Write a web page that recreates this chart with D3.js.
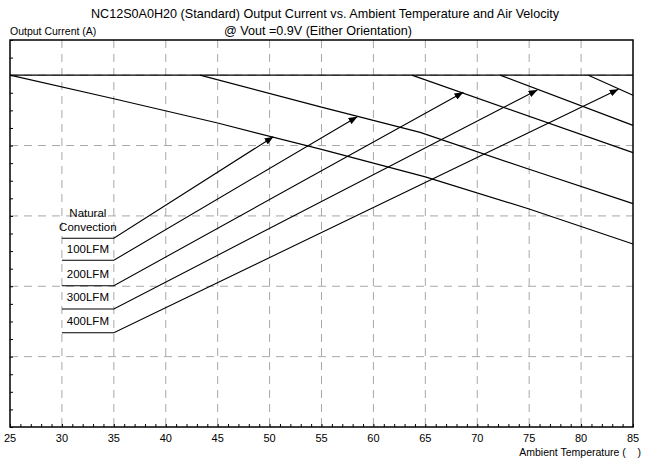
<!DOCTYPE html>
<html>
<head>
<meta charset="utf-8">
<script src="https://cdn.jsdelivr.net/npm/d3@7/dist/d3.min.js"></script>
<style>
  html, body { margin: 0; padding: 0; background: #fff; }
  text { font-family: "Liberation Sans", Arial, sans-serif; fill: #000; white-space: pre; }
</style>
</head>
<body>
<svg id="chart" width="653" height="460"></svg>
<script>
// ---- data ----
const xTicks = [25, 30, 35, 40, 45, 50, 55, 60, 65, 70, 75, 80, 85];
const yGrid = [4, 8, 12, 16, 20];

const maxTemp = [25, 85];
const maxCurr = [20, 20];
const ncTemp = [25, 35, 45, 55, 65, 75, 85];
const ncCurr = [20, 18.66, 17.28, 15.78, 14.22, 12.39, 10.4];
const lfm100Temp = [43.3, 54.9, 64.5, 75, 85];
const lfm100Curr = [20, 18.2, 16.75, 14.65, 12.7];
const lfm200Temp = [63.7, 85];
const lfm200Curr = [20, 15.6];
const lfm300Temp = [72.2, 85];
const lfm300Curr = [20, 17.15];
const lfm400Temp = [80.7, 85];
const lfm400Curr = [20, 18.86];

const labelNames = [["Natural", "Convection"], ["100LFM"], ["200LFM"], ["300LFM"], ["400LFM"]];
const labelCurr = [10.73, 9.48, 8.03, 6.71, 5.36];
const labelFromTemp = 30, labelToTemp = 35;
const tipTemp = [50.36, 58.45, 68.66, 75.79, 83.6];
const tipCurr = [16.5, 17.64, 19.03, 19.16, 19.2];

const title1 = "NC12S0A0H20 (Standard) Output Current vs. Ambient Temperature and Air Velocity";
const title2 = "@ Vout =0.9V (Either Orientation)";
const yTitle = "Output Current (A)";
const xTitle = "Ambient Temperature (    )";

// ---- drawing ----
const svg = d3.select("#chart");
const x = d3.scaleLinear().domain([25, 85]).range([10, 633]);
const y = d3.scaleLinear().domain([0, 22]).range([427, 40]);

// grid
const grid = svg.append("g").attr("stroke", "#a8a8a8").attr("stroke-width", 1).attr("stroke-dasharray", "8,6");
grid.selectAll("line.v").data(xTicks.slice(1, -1)).join("line")
  .attr("x1", d => x(d)).attr("x2", d => x(d)).attr("y1", y(22)).attr("y2", y(0));
grid.selectAll("line.h").data(yGrid).join("line")
  .attr("x1", x(25)).attr("x2", x(85)).attr("y1", d => y(d)).attr("y2", d => y(d));

// axes (minor inward ticks)
const bottom = svg.append("g").attr("transform", `translate(0,${y(0)})`)
  .call(d3.axisBottom(x).tickValues(d3.range(25, 86, 1)).tickSize(-3).tickFormat(""));
bottom.select(".domain").remove();
bottom.selectAll("line").attr("stroke", "#000");
const left = svg.append("g").attr("transform", `translate(${x(25)},0)`)
  .call(d3.axisLeft(y).tickValues(d3.range(0, 23, 1)).tickSize(-3).tickFormat(""));
left.select(".domain").remove();
left.selectAll("line").attr("stroke", "#000");

// tick labels
svg.append("g").selectAll("text").data(xTicks).join("text")
  .attr("x", d => x(d)).attr("y", 442).attr("text-anchor", "middle")
  .attr("font-size", 11).text(d => d);

// frame
svg.append("rect").attr("x", x(25)).attr("y", y(22))
  .attr("width", x(85) - x(25)).attr("height", y(0) - y(22))
  .attr("fill", "none").attr("stroke", "#000").attr("stroke-width", 1.5);

// curves
const line = d3.line().x(d => x(d[0])).y(d => y(d[1]));
const series = [[maxTemp, maxCurr], [ncTemp, ncCurr], [lfm100Temp, lfm100Curr], [lfm200Temp, lfm200Curr],
                [lfm300Temp, lfm300Curr], [lfm400Temp, lfm400Curr]];
svg.append("g").selectAll("path").data(series).join("path")
  .attr("d", s => line(s[0].map((t, i) => [t, s[1][i]])))
  .attr("fill", "none").attr("stroke", "#000").attr("stroke-width", 1.2);

// arrow marker
svg.append("defs").append("marker")
  .attr("id", "arrow").attr("viewBox", "0 0 10 8").attr("refX", 10).attr("refY", 4)
  .attr("markerWidth", 9).attr("markerHeight", 7).attr("markerUnits", "userSpaceOnUse")
  .attr("orient", "auto")
  .append("path").attr("d", "M0,0 L10,4 L0,8 Z").attr("fill", "#000");

// label leaders
const lg = svg.append("g");
labelNames.forEach((names, i) => {
  const ly = y(labelCurr[i]);
  lg.append("path")
    .attr("d", `M${x(labelFromTemp)},${ly} L${x(labelToTemp)},${ly} L${x(tipTemp[i])},${y(tipCurr[i])}`)
    .attr("fill", "none").attr("stroke", "#000").attr("stroke-width", 1.1)
    .attr("marker-end", "url(#arrow)");
  names.forEach((n, j) => {
    lg.append("text").attr("x", (x(labelFromTemp) + x(labelToTemp)) / 2)
      .attr("y", ly - 7.5 - (names.length - 1 - j) * 14)
      .attr("text-anchor", "middle").attr("font-size", 11.5).text(n);
  });
});

// titles
svg.append("text").attr("x", 325).attr("y", 18).attr("text-anchor", "middle").attr("font-size", 12.6).text(title1);
svg.append("text").attr("x", 318).attr("y", 35).attr("text-anchor", "middle").attr("font-size", 12.6).text(title2);
svg.append("text").attr("x", 10).attr("y", 35).attr("font-size", 10.5).text(yTitle);
svg.append("text").attr("x", 641).attr("y", 456).attr("text-anchor", "end").attr("font-size", 10.5).text(xTitle);
</script>
</body>
</html>
